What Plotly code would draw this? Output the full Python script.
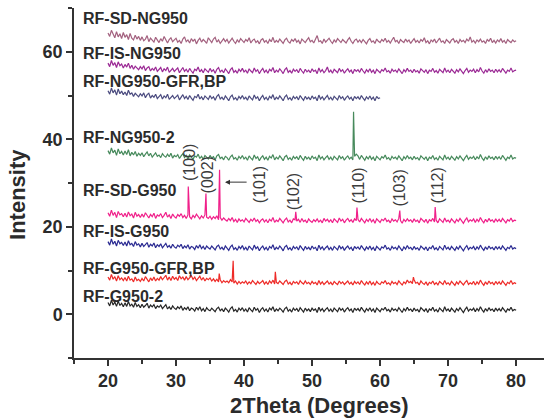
import numpy as np
import plotly.graph_objects as go

# XRD scans, 2-theta from 20 deg in 0.25 deg steps (stacked, offset intensities)
SD_NG950 = [
    64.3, 63.5, 64.9, 63.8, 63.2, 64.6, 63.4, 64.1, 63.0, 64.4,
    63.3, 63.9, 62.8, 64.2, 63.1, 62.7, 63.8, 62.9, 63.5, 62.6,
    63.4, 62.5, 62.9, 63.7, 62.3, 63.1, 62.6, 62.2, 63.3, 62.7,
    62.1, 63.0, 62.4, 63.5, 62.6, 62.0, 62.8, 63.2, 62.3, 62.7,
    63.1, 62.2, 62.6, 61.9, 62.9, 63.4, 62.3, 62.7, 62.0, 63.0,
    62.4, 62.9, 61.8, 62.6, 63.1, 62.2, 62.8, 62.4, 61.9, 63.2,
    62.5, 62.1, 62.9, 63.3, 62.2, 62.7, 61.9, 62.5, 63.0, 62.3,
    62.8, 62.0, 62.6, 63.1, 62.4, 61.9, 62.7, 62.2, 63.0, 62.5,
    62.1, 62.8, 62.4, 63.2, 62.0, 62.6, 62.9, 62.1, 62.5, 61.8,
    62.7, 63.0, 62.2, 62.6, 61.9, 62.8, 62.3, 63.3, 62.1, 62.6,
    62.2, 62.9, 62.5, 61.9, 62.7, 63.1, 62.3, 62.0, 62.8, 62.4,
    63.0, 62.2, 62.6, 61.8, 62.9, 62.5, 62.1, 62.7, 63.2, 62.3,
    62.6, 62.0, 62.8, 63.7, 62.3, 62.5, 61.9, 62.9, 62.2, 62.6,
    63.1, 62.4, 61.9, 62.7, 62.2, 63.0, 62.5, 62.1, 62.8, 62.3,
    62.0, 62.7, 63.2, 62.4, 61.9, 62.6, 62.9, 62.2, 62.7, 62.1,
    62.8, 62.3, 61.8, 62.6, 63.0, 62.2, 62.5, 61.9, 62.9, 62.4,
    62.1, 62.8, 62.4, 63.1, 62.2, 62.6, 62.0, 62.7, 63.3, 62.3,
    62.6, 61.9, 62.8, 62.4, 62.1, 62.9, 62.3, 62.7, 61.9, 62.5,
    63.0, 62.2, 62.6, 62.0, 62.8, 62.4, 63.2, 62.1, 62.5, 61.8,
    62.7, 62.3, 62.9, 62.0, 62.6, 63.1, 62.2, 62.5, 61.9, 62.8,
    62.4, 62.0, 62.7, 63.0, 62.2, 62.6, 61.9, 62.8, 62.3, 62.6,
    62.1, 62.9, 62.4, 63.4, 62.2, 62.6, 62.0, 62.7, 62.3, 62.9,
    62.2, 62.5, 61.9, 62.8, 62.4, 63.1, 62.1, 62.6, 62.0, 62.7,
    62.3, 63.0, 62.2, 62.6, 61.9, 62.8, 62.4, 62.1, 62.7, 62.3,
    62.5,
]
IS_NG950 = [
    57.4, 56.6, 58.0, 56.9, 57.5, 56.4, 57.7, 56.8, 57.2, 56.3,
    57.1, 56.5, 57.4, 56.2, 56.9, 56.0, 56.7, 56.3, 55.9, 56.6,
    56.1, 56.8, 55.7, 56.3, 56.6, 55.6, 56.2, 55.8, 56.5, 55.5,
    56.0, 56.4, 55.4, 56.1, 55.7, 56.5, 55.3, 55.9, 56.2, 55.5,
    55.8, 56.3, 55.2, 55.9, 56.4, 55.5, 56.0, 55.3, 56.2, 55.6,
    55.1, 56.0, 55.7, 56.5, 55.4, 55.9, 55.2, 56.1, 55.6, 55.3,
    56.2, 55.5, 55.9, 55.1, 56.0, 56.4, 55.4, 55.8, 55.2, 56.1,
    55.6, 55.0, 55.9, 56.3, 55.3, 55.7, 55.1, 56.0, 55.5, 56.2,
    55.4, 55.8, 55.1, 56.1, 55.6, 55.2, 56.3, 55.5, 55.9, 55.0,
    55.7, 56.2, 55.3, 55.8, 55.1, 56.0, 55.6, 56.4, 55.2, 55.8,
    55.4, 56.1, 55.6, 55.0, 55.9, 56.3, 55.3, 55.7, 55.1, 56.0,
    55.5, 55.9, 55.2, 56.2, 55.6, 55.1, 56.0, 55.4, 55.8, 55.2,
    56.1, 55.5, 55.8, 55.0, 56.3, 55.4, 55.9, 55.2, 55.7, 56.5,
    55.3, 55.8, 55.1, 56.0, 55.6, 55.2, 56.2, 55.5, 55.9, 55.1,
    55.7, 56.1, 55.4, 55.8, 55.0, 56.0, 55.5, 55.9, 55.3, 56.2,
    55.6, 55.1, 55.9, 55.4, 56.1, 55.3, 55.8, 55.0, 56.0, 55.5,
    55.2, 55.9, 55.6, 56.3, 55.4, 55.7, 55.1, 56.0, 55.5, 55.8,
    55.3, 56.1, 55.6, 55.0, 55.9, 55.4, 56.2, 55.5, 55.8, 55.2,
    56.0, 55.4, 55.7, 55.1, 56.1, 55.6, 55.3, 55.9, 55.0, 55.8,
    55.5, 56.2, 55.3, 55.7, 55.1, 56.0, 55.6, 55.2, 56.3, 55.4,
    55.8, 55.2, 56.0, 55.5, 55.1, 55.9, 55.4, 56.1, 55.6, 55.0,
    55.7, 56.2, 55.3, 55.8, 55.5, 56.0, 55.2, 55.9, 55.4, 56.4,
    55.6, 55.1, 55.9, 55.3, 56.1, 55.5, 55.8, 55.2, 56.0, 55.4,
    55.9, 55.3, 56.2, 55.6, 55.1, 55.8, 55.5, 56.3, 55.4, 55.7,
    55.8,
]
# this sample was scanned only up to 60 deg
NG950_GFR_BP = [
    51.1, 50.3, 51.7, 50.6, 51.3, 50.1, 51.5, 50.4, 51.0, 50.2,
    50.8, 50.0, 51.2, 50.3, 50.6, 49.8, 50.5, 50.1, 49.7, 50.4,
    49.9, 50.6, 49.5, 50.2, 50.5, 49.4, 50.0, 49.6, 50.3, 49.3,
    49.8, 50.2, 49.2, 49.9, 49.5, 50.3, 49.1, 49.7, 50.0, 49.3,
    49.6, 50.1, 49.0, 49.7, 50.2, 49.3, 49.8, 49.1, 50.0, 49.4,
    48.9, 49.8, 49.5, 50.3, 49.2, 49.7, 49.0, 49.9, 49.4, 49.1,
    50.0, 49.3, 49.7, 48.9, 49.8, 50.2, 49.2, 49.6, 49.0, 49.9,
    49.4, 48.8, 49.7, 50.1, 49.1, 49.5, 48.9, 49.8, 49.3, 50.0,
    49.2, 49.6, 48.9, 49.9, 49.4, 49.0, 50.1, 49.3, 49.7, 48.8,
    49.5, 50.0, 49.1, 49.6, 48.9, 49.8, 49.4, 50.2, 49.0, 49.6,
    49.2, 49.9, 49.4, 48.8, 49.7, 50.1, 49.1, 49.5, 48.9, 49.8,
    49.3, 49.7, 49.0, 50.0, 49.4, 48.9, 49.8, 49.2, 49.6, 49.0,
    49.9, 49.3, 49.6, 48.8, 50.1, 49.2, 49.7, 49.0, 49.5, 50.0,
    49.1, 49.6, 48.9, 49.8, 49.4, 49.0, 50.0, 49.3, 49.7, 48.9,
    49.5, 49.9, 49.2, 49.6, 48.8, 49.8, 49.3, 49.7, 49.1, 50.0,
    49.4, 48.9, 49.7, 49.2, 49.9, 49.1, 49.6, 48.8, 49.8, 49.3,
    49.5,
]
NG950_2 = [
    37.4, 36.6, 38.0, 36.9, 37.5, 36.3, 37.8, 36.7, 37.2, 36.4,
    37.3, 36.5, 37.6, 36.2, 37.0, 36.4, 37.2, 36.1, 36.8, 36.3,
    36.9, 36.0, 36.6, 37.1, 36.2, 36.8, 35.9, 36.5, 36.9, 36.1,
    36.4, 35.8, 36.7, 36.2, 35.9, 36.6, 36.0, 36.8, 35.7, 36.3,
    36.0, 36.5, 35.6, 36.2, 36.7, 35.8, 36.3, 35.5, 36.4, 35.9,
    35.4, 36.2, 35.9, 36.6, 35.6, 36.1, 35.4, 36.3, 35.8, 35.5,
    36.3, 35.7, 36.0, 35.3, 36.2, 36.5, 35.6, 35.9, 35.3, 36.1,
    35.8, 35.2, 36.0, 36.4, 35.5, 35.8, 35.2, 36.1, 35.6, 36.3,
    35.5, 35.9, 35.2, 36.2, 35.7, 35.3, 36.4, 35.6, 36.0, 35.1,
    35.8, 36.2, 35.4, 35.9, 35.2, 36.1, 35.7, 36.5, 35.3, 35.9,
    35.5, 36.2, 35.7, 35.1, 36.0, 36.3, 35.4, 35.8, 35.2, 36.1,
    35.6, 36.0, 35.3, 36.3, 35.7, 35.2, 36.1, 35.5, 35.9, 35.3,
    36.2, 35.6, 35.9, 35.1, 36.4, 35.5, 36.0, 35.3, 35.8, 36.2,
    35.4, 35.9, 35.2, 36.1, 35.7, 35.3, 36.3, 35.6, 36.0, 35.2,
    35.8, 36.2, 35.5, 35.9, 35.3, 36.1, 36.6, 36.2, 35.4, 36.3,
    35.7, 35.2, 36.0, 35.5, 36.2, 35.4, 35.9, 35.1, 36.1, 35.6,
    35.3, 36.0, 35.7, 36.4, 35.5, 35.8, 35.2, 36.1, 35.6, 35.9,
    35.4, 36.2, 35.7, 35.1, 36.0, 35.5, 36.3, 35.6, 35.9, 35.3,
    36.1, 35.5, 35.8, 35.2, 36.2, 35.7, 35.4, 36.0, 35.1, 35.9,
    35.6, 36.3, 35.4, 35.8, 35.2, 36.1, 35.7, 35.3, 36.4, 35.5,
    35.9, 35.3, 36.1, 35.6, 35.2, 36.0, 35.5, 36.2, 35.7, 35.1,
    35.8, 36.3, 35.4, 35.9, 35.6, 36.1, 35.3, 36.0, 35.5, 36.5,
    35.7, 35.2, 36.0, 35.4, 36.2, 35.6, 35.9, 35.3, 36.1, 35.5,
    36.0, 35.4, 36.3, 35.7, 35.2, 35.9, 35.6, 36.4, 35.5, 35.8,
    35.7,
]
SD_G950 = [
    23.2, 22.4, 23.8, 22.6, 23.3, 22.1, 23.5, 22.7, 23.0, 22.3,
    23.1, 22.2, 23.4, 22.5, 22.9, 22.0, 23.3, 22.4, 22.8, 22.1,
    22.9, 22.2, 23.2, 22.6, 22.0, 22.8, 22.3, 23.1, 21.9, 22.7,
    22.4, 23.0, 22.1, 22.6, 23.3, 22.2, 22.7, 21.9, 22.9, 22.3,
    22.0, 22.8, 22.4, 23.0, 22.1, 22.6, 21.9, 22.7, 22.3, 21.8,
    22.6, 22.1, 22.9, 22.3, 21.8, 22.5, 22.0, 22.7, 22.2, 21.9,
    22.4, 21.7, 22.3, 21.9, 22.5, 21.6, 22.1, 21.5, 22.0, 21.6,
    21.3, 21.9, 21.4, 22.1, 21.2, 21.7, 21.0, 21.8, 21.3, 21.6,
    21.1, 21.9, 21.4, 21.0, 21.7, 21.3, 22.0, 21.2, 21.6, 20.9,
    21.5, 21.8, 21.1, 21.6, 20.9, 21.7, 21.3, 22.1, 21.0, 21.5,
    21.2, 21.9, 21.4, 20.9, 21.6, 22.0, 21.1, 21.5, 20.9, 21.8,
    21.6, 21.3, 21.7, 21.0, 21.9, 21.2, 21.5, 20.9, 21.8, 21.3,
    21.0, 21.6, 21.2, 21.8, 21.1, 21.5, 20.9, 21.9, 21.3, 21.7,
    21.1, 21.6, 20.9, 21.8, 21.4, 21.0, 22.0, 21.3, 21.7, 20.9,
    21.5, 21.9, 21.2, 21.6, 21.0, 21.8, 21.4, 21.7, 21.1, 21.9,
    21.4, 20.9, 21.7, 21.2, 21.9, 21.1, 21.6, 20.8, 21.8, 21.3,
    21.0, 21.7, 21.4, 22.0, 21.2, 21.5, 20.9, 21.8, 21.3, 21.6,
    21.1, 21.9, 21.4, 20.8, 21.7, 21.2, 21.8, 21.3, 21.6, 21.0,
    21.8, 21.2, 21.5, 20.9, 21.9, 21.4, 21.1, 21.7, 20.8, 21.6,
    21.3, 21.9, 21.1, 21.5, 20.9, 21.8, 21.4, 21.0, 22.0, 21.2,
    21.5, 21.0, 21.8, 21.3, 20.9, 21.7, 21.2, 21.9, 21.4, 20.8,
    21.5, 22.0, 21.1, 21.6, 21.3, 21.8, 21.0, 21.7, 21.2, 22.1,
    21.4, 20.9, 21.7, 21.1, 21.9, 21.3, 21.6, 21.0, 21.8, 21.2,
    21.7, 21.1, 21.9, 21.4, 20.9, 21.6, 21.3, 22.0, 21.2, 21.5,
    21.4,
]
IS_G950 = [
    16.6, 15.8, 17.2, 16.0, 16.7, 15.6, 16.9, 16.1, 16.4, 15.7,
    16.5, 15.6, 16.8, 15.9, 16.2, 15.5, 16.6, 15.8, 16.1, 15.4,
    16.2, 15.5, 15.9, 16.4, 15.3, 16.0, 15.6, 16.3, 15.2, 15.9,
    15.5, 16.1, 15.2, 15.8, 16.2, 15.3, 15.7, 15.1, 16.0, 15.4,
    15.1, 15.8, 15.4, 16.0, 15.0, 15.6, 15.2, 15.9, 14.9, 15.5,
    15.3, 14.8, 15.7, 15.1, 15.9, 15.0, 15.5, 14.8, 15.6, 15.2,
    14.9, 15.6, 15.2, 14.7, 15.5, 15.8, 14.9, 15.3, 14.7, 15.6,
    15.1, 14.6, 15.4, 15.8, 14.8, 15.2, 14.6, 15.5, 15.0, 15.7,
    14.8, 15.3, 14.6, 15.6, 15.1, 14.7, 15.8, 15.0, 15.4, 14.5,
    15.2, 15.6, 14.8, 15.3, 14.6, 15.5, 15.1, 15.9, 14.7, 15.3,
    14.9, 15.6, 15.1, 14.5, 15.4, 15.7, 14.8, 15.2, 14.6, 15.5,
    15.0, 15.4, 14.7, 15.7, 15.1, 14.6, 15.5, 14.9, 15.3, 14.7,
    15.6, 15.0, 15.3, 14.5, 15.8, 14.9, 15.4, 14.7, 15.2, 15.6,
    14.8, 15.3, 14.6, 15.5, 15.1, 14.7, 15.7, 15.0, 15.4, 14.6,
    15.2, 15.6, 14.9, 15.3, 14.5, 15.5, 15.0, 15.4, 14.8, 15.7,
    15.1, 14.6, 15.4, 14.9, 15.6, 14.8, 15.3, 14.5, 15.5, 15.0,
    14.7, 15.4, 15.1, 15.8, 14.9, 15.2, 14.6, 15.5, 15.0, 15.3,
    14.8, 15.6, 15.1, 14.5, 15.4, 14.9, 15.7, 15.0, 15.3, 14.7,
    15.5, 14.9, 15.2, 14.6, 15.6, 15.1, 14.8, 15.4, 14.5, 15.3,
    15.0, 15.7, 14.8, 15.2, 14.6, 15.5, 15.1, 14.7, 15.8, 14.9,
    15.3, 14.7, 15.5, 15.0, 14.6, 15.4, 14.9, 15.6, 15.1, 14.5,
    15.2, 15.7, 14.8, 15.3, 15.0, 15.5, 14.7, 15.4, 14.9, 15.8,
    15.1, 14.6, 15.4, 14.8, 15.6, 15.0, 15.3, 14.7, 15.5, 14.9,
    15.4, 14.8, 15.6, 15.1, 14.6, 15.3, 15.0, 15.7, 14.9, 15.2,
    15.0,
]
G950_GFR_BP = [
    8.5, 7.8, 9.1, 8.0, 8.6, 7.6, 8.8, 7.9, 8.3, 7.7,
    8.4, 7.6, 8.7, 7.8, 8.1, 7.4, 8.5, 7.7, 8.0, 7.5,
    8.2, 7.6, 8.6, 7.9, 7.4, 8.3, 7.7, 8.5, 7.6, 8.2,
    7.8, 8.6, 7.9, 8.4, 8.9, 7.8, 8.5, 7.7, 8.7, 8.0,
    8.4, 7.7, 8.8, 8.1, 8.5, 7.8, 8.6, 7.9, 8.3, 8.8,
    8.0, 8.5, 7.7, 8.3, 8.7, 7.8, 8.4, 7.6, 8.2, 7.9,
    8.3, 7.6, 8.1, 7.5, 8.0, 7.4, 7.9, 7.2, 7.7, 7.3,
    7.6, 7.2, 7.9, 7.4, 7.1, 7.6, 6.9, 7.5, 7.0, 7.4,
    7.1, 7.6, 6.9, 7.4, 7.0, 7.7, 7.2, 6.8, 7.5, 7.0,
    7.3, 7.7, 6.9, 7.4, 6.8, 7.6, 7.1, 7.8, 6.9, 7.3,
    7.0, 7.6, 7.2, 6.8, 7.5, 7.8, 6.9, 7.3, 6.7, 7.5,
    7.1, 7.4, 6.8, 7.7, 7.2, 6.9, 7.6, 7.0, 7.3, 6.8,
    7.5, 7.0, 7.3, 6.7, 7.7, 6.9, 7.4, 6.8, 7.2, 7.6,
    6.9, 7.3, 6.7, 7.5, 7.1, 6.8, 7.6, 7.0, 7.4, 6.8,
    7.2, 7.6, 6.9, 7.3, 6.7, 7.5, 7.0, 7.4, 6.8, 7.7,
    7.1, 6.7, 7.4, 6.9, 7.6, 6.8, 7.3, 6.6, 7.5, 7.0,
    6.8, 7.4, 7.1, 7.7, 6.9, 7.2, 6.7, 7.5, 7.0, 7.3,
    6.8, 7.6, 7.1, 6.7, 7.4, 7.0, 7.8, 7.2, 7.5, 7.0,
    7.9, 7.1, 7.3, 6.7, 7.6, 7.1, 6.8, 7.4, 6.6, 7.3,
    7.0, 7.6, 6.8, 7.2, 6.7, 7.5, 7.1, 6.8, 7.7, 6.9,
    7.2, 6.7, 7.5, 7.0, 6.6, 7.4, 6.9, 7.6, 7.1, 6.7,
    7.3, 7.7, 6.8, 7.2, 6.9, 7.5, 6.7, 7.4, 6.9, 7.8,
    7.1, 6.6, 7.4, 6.8, 7.6, 7.0, 7.3, 6.7, 7.5, 6.9,
    7.4, 6.8, 7.6, 7.1, 6.6, 7.3, 7.0, 7.7, 6.9, 7.2,
    7.0,
]
G950_2 = [
    2.7, 1.9, 3.2, 2.1, 2.8, 1.8, 3.0, 2.0, 2.5, 1.7,
    2.6, 1.8, 2.9, 1.9, 2.3, 1.6, 2.7, 1.8, 2.2, 1.5,
    2.3, 1.6, 2.0, 2.5, 1.4, 2.1, 1.7, 2.2, 1.3, 1.9,
    1.6, 2.1, 1.3, 1.8, 2.2, 1.2, 1.7, 1.1, 1.9, 1.4,
    1.1, 1.7, 1.3, 1.9, 0.9, 1.5, 1.1, 1.7, 0.8, 1.4,
    1.2, 0.7, 1.6, 1.0, 1.7, 0.8, 1.3, 0.6, 1.5, 1.0,
    0.8, 1.4, 1.0, 0.6, 1.3, 1.6, 0.8, 1.2, 0.6, 1.4,
    1.0, 0.5, 1.3, 1.7, 0.7, 1.1, 0.5, 1.4, 0.9, 1.5,
    0.7, 1.2, 0.5, 1.5, 1.0, 0.6, 1.6, 0.9, 1.3, 0.4,
    1.1, 1.5, 0.7, 1.2, 0.5, 1.4, 1.0, 1.7, 0.6, 1.2,
    0.8, 1.4, 1.0, 0.5, 1.3, 1.6, 0.7, 1.1, 0.5, 1.4,
    0.9, 1.3, 0.6, 1.5, 1.0, 0.5, 1.4, 0.8, 1.2, 0.6,
    1.4, 0.9, 1.2, 0.4, 1.6, 0.8, 1.3, 0.6, 1.1, 1.5,
    0.7, 1.2, 0.5, 1.4, 1.0, 0.6, 1.5, 0.9, 1.3, 0.5,
    1.1, 1.5, 0.8, 1.2, 0.4, 1.4, 0.9, 1.3, 0.7, 1.6,
    1.0, 0.5, 1.3, 0.8, 1.5, 0.7, 1.2, 0.4, 1.4, 0.9,
    0.6, 1.3, 1.0, 1.6, 0.8, 1.1, 0.5, 1.4, 0.9, 1.2,
    0.7, 1.5, 1.0, 0.4, 1.3, 0.8, 1.6, 0.9, 1.2, 0.6,
    1.4, 0.8, 1.1, 0.5, 1.5, 1.0, 0.7, 1.3, 0.4, 1.2,
    0.9, 1.6, 0.7, 1.1, 0.5, 1.4, 1.0, 0.6, 1.7, 0.8,
    1.2, 0.6, 1.4, 0.9, 0.5, 1.3, 0.8, 1.5, 1.0, 0.4,
    1.1, 1.6, 0.7, 1.2, 0.9, 1.4, 0.6, 1.3, 0.8, 1.7,
    1.0, 0.5, 1.3, 0.7, 1.5, 0.9, 1.2, 0.6, 1.4, 0.8,
    1.3, 0.7, 1.5, 1.0, 0.5, 1.2, 0.9, 1.6, 0.8, 1.1,
    0.9,
]

# sharp reflections (2-theta, intensity) on top of the scans
NG950_2_PEAKS_X = [56.1]
NG950_2_PEAKS_Y = [46.3]
SD_G950_PEAKS_X = [31.8, 34.4, 36.4, 47.6, 56.6, 62.9, 68.1]
SD_G950_PEAKS_Y = [29.2, 27.6, 33.0, 23.4, 24.4, 23.7, 24.5]
G950_GFR_PEAKS_X = [36.35, 38.4, 44.6, 64.9]
G950_GFR_PEAKS_Y = [9.3, 12.2, 9.7, 8.5]

LABELS = ["RF-SD-NG950", "RF-IS-NG950", "RF-NG950-GFR,BP", "RF-NG950-2",
          "RF-SD-G950", "RF-IS-G950", "RF-G950-GFR,BP", "RF-G950-2"]
LABEL_Y = [67.5, 59.5, 53.1, 40.4, 28.3, 19.0, 10.4, 4.0]
COLORS = ["#a3617f", "#9b2a95", "#4b4b7f", "#478a5c",
          "#f0208a", "#2b2b92", "#ee2b28", "#262626"]

HKL = ["(100)", "(002)", "(101)", "(102)", "(110)", "(103)", "(112)"]
HKL_X = [31.9, 34.6, 42.2, 47.2, 56.8, 62.9, 68.4]
HKL_Y = [34.8, 31.8, 29.5, 27.9, 29.5, 28.9, 29.5]

STEP = 0.25
START = 20.0
FONT = "Arial, Liberation Sans"
INK = "#2b2b2b"


def scan(values, px=(), py=()):
    x = list(START + STEP * np.arange(len(values)))
    pts = sorted(zip(x + list(px), list(values) + list(py)))
    return [p[0] for p in pts], [p[1] for p in pts]


series = [
    scan(SD_NG950),
    scan(IS_NG950),
    scan(NG950_GFR_BP),
    scan(NG950_2, NG950_2_PEAKS_X, NG950_2_PEAKS_Y),
    scan(SD_G950, SD_G950_PEAKS_X, SD_G950_PEAKS_Y),
    scan(IS_G950),
    scan(G950_GFR_BP, G950_GFR_PEAKS_X, G950_GFR_PEAKS_Y),
    scan(G950_2),
]

fig = go.Figure()
for (x, y), name, c in zip(series, LABELS, COLORS):
    fig.add_trace(go.Scatter(x=x, y=y, mode="lines", name=name,
                             line=dict(color=c, width=1.2), showlegend=False))

ann = []
for name, ly in zip(LABELS, LABEL_Y):
    ann.append(dict(x=16.0, y=ly, xref="x", yref="y", text=name, showarrow=False,
                    xanchor="left", yanchor="middle",
                    font=dict(family=FONT, size=16, color=INK, weight="bold")))
for t, hx, hy in zip(HKL, HKL_X, HKL_Y):
    ann.append(dict(x=hx, y=hy, xref="x", yref="y", text=t, showarrow=False,
                    textangle=-90, xanchor="center", yanchor="middle",
                    font=dict(family=FONT, size=16, color="#3c3c3c")))
# arrow pointing at the (101) reflection
ann.append(dict(x=37.2, y=30.2, ax=40.6, ay=30.2, xref="x", yref="y",
                axref="x", ayref="y", text="", showarrow=True, arrowhead=2,
                arrowsize=1, arrowwidth=1, arrowcolor="#333333"))
# axis titles
ann.append(dict(x=0.523, y=0, xref="paper", yref="paper", yshift=-47,
                xanchor="center", yanchor="middle", text="2Theta (Degrees)",
                showarrow=False, font=dict(family=FONT, size=22, color=INK, weight="bold")))
ann.append(dict(x=-0.119, y=0.466, xref="paper", yref="paper", textangle=-90,
                xanchor="center", yanchor="middle", text="Intensity",
                showarrow=False, font=dict(family=FONT, size=22, color=INK, weight="bold")))

axis_common = dict(
    showgrid=False, zeroline=False, showline=True, linecolor="#333333", linewidth=1.5,
    ticks="outside", ticklen=6, tickwidth=1.5, tickcolor="#333333",
    tickfont=dict(family=FONT, size=18, weight="bold", color=INK),
)

fig.update_layout(
    width=544, height=418,
    margin=dict(l=74, r=0, t=8, b=60),
    paper_bgcolor="white", plot_bgcolor="white",
    font=dict(family=FONT, color=INK),
    annotations=ann,
    xaxis=dict(range=[15, 84.1], tick0=0, dtick=10,
               minor=dict(dtick=5, ticks="outside", ticklen=4, tickwidth=1.5,
                          tickcolor="#333333", showgrid=False),
               **axis_common),
    yaxis=dict(range=[-10, 70], tick0=0, dtick=20,
               minor=dict(dtick=10, ticks="outside", ticklen=4, tickwidth=1.5,
                          tickcolor="#333333", showgrid=False),
               **axis_common),
)

fig.write_html("out.html")
